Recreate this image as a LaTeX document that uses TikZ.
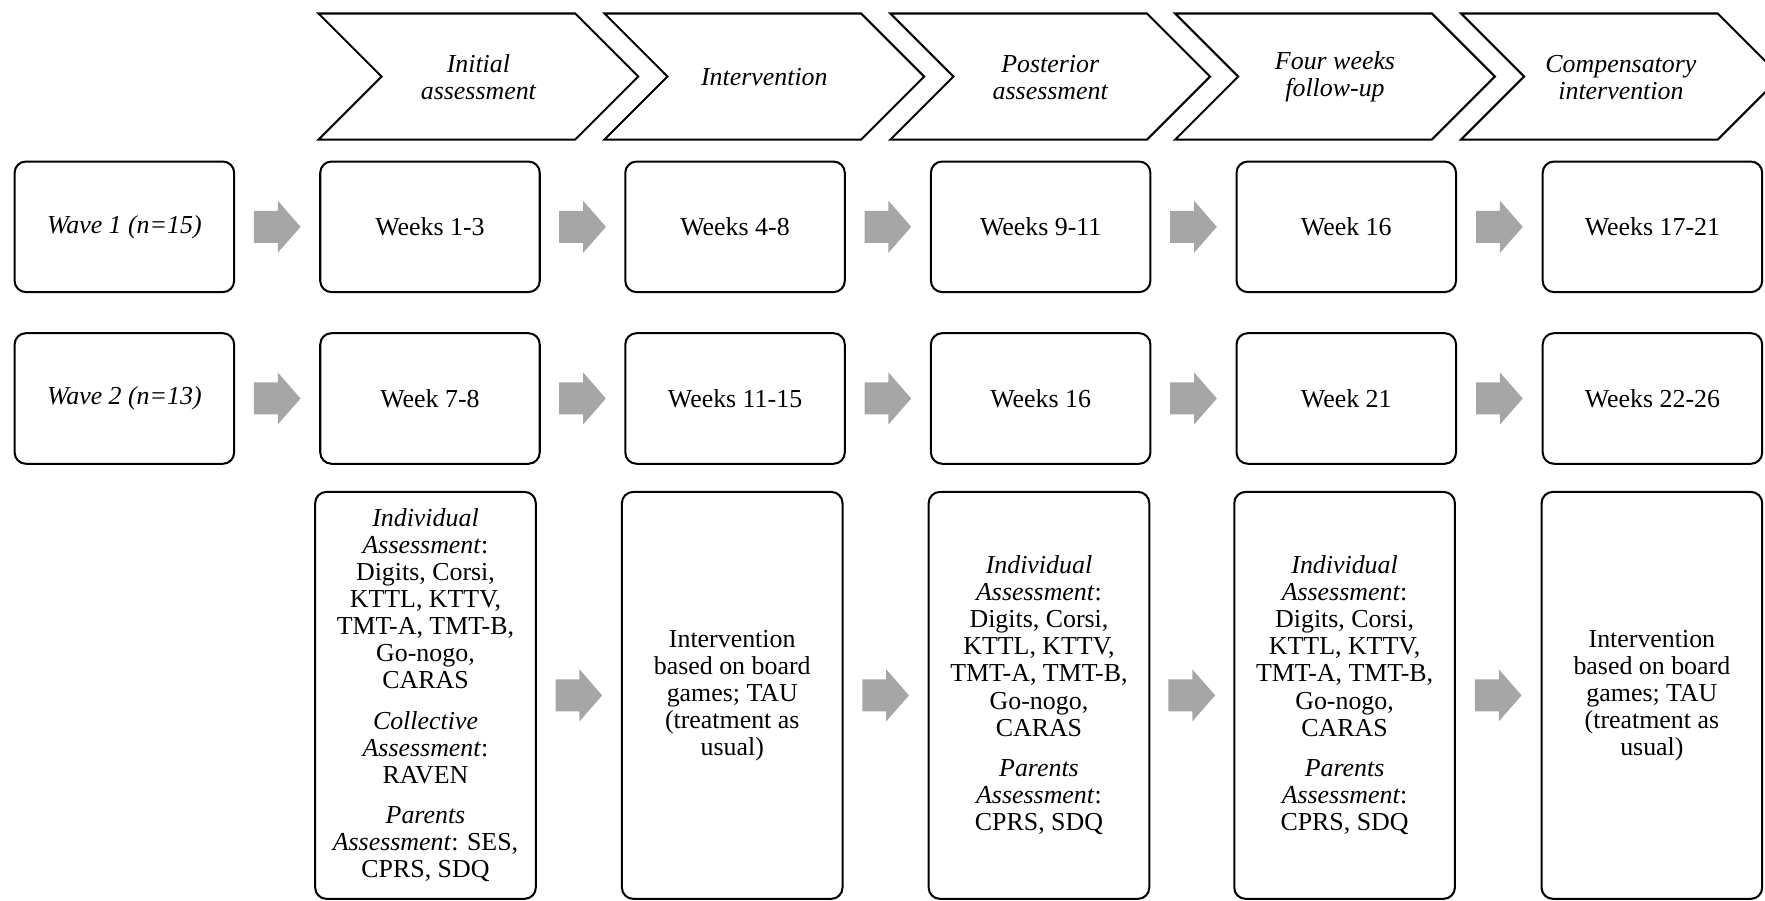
\documentclass[tikz,border=0pt]{standalone}
\usepackage{fontspec}
\setmainfont{Liberation Serif}
\usetikzlibrary{calc}
\definecolor{arrowgray}{RGB}{166,166,166}
\newcommand\diagfont{\fontsize{23}{24}\selectfont}
\begin{document}
\begin{tikzpicture}[x=1pt,y=-1pt,
  box/.style={draw, line width=1.8pt, rounded corners=10pt, align=center, inner sep=0pt, font=\diagfont},
  rowbox/.style={box, minimum width=195pt, minimum height=116pt},
  tallbox/.style={box, minimum width=196pt, minimum height=361.5pt},
  chevron/.style={draw, line width=1.8pt, line join=miter},
  chevtext/.style={align=center, inner sep=0pt, font=\diagfont\itshape},
  blockarrow/.pic={\fill[arrowgray] (-20.75,-14.2) -- (0.55,-14.2) -- (0.55,-23.1) -- (20.75,0) -- (0.55,23.1) -- (0.55,14.2) -- (-20.75,14.2) -- cycle;}
]
\useasboundingbox (0,0) rectangle (1568,800);

% chevrons
\foreach \L/\nm/\txt in {283/h1/{Initial\\assessment}, 537/h2/{Intervention}, 791/h3/{Posterior\\assessment}, 1044/h4/{Four weeks\\follow-up}, 1298/h5/{Compensatory\\intervention}}{
  \draw[chevron] (\L,12) -- ++(228,0) -- ++(56,56) -- ++(-56,56) -- ++(-228,0) -- ++(56,-56) -- cycle;
  \node[chevtext] (\nm) at (\L+142,68.5) {\txt};
}

% row 1
\node[rowbox] (w1) at (110.5,201.5) {\textit{Wave 1 (n=15)}};
\node[rowbox] (a1) at (382,201.5) {Weeks 1-3};
\node[rowbox] (a2) at (653,201.5) {Weeks 4-8};
\node[rowbox] (a3) at (924.5,201.5) {Weeks 9-11};
\node[rowbox] (a4) at (1196,201.5) {Week 16};
\node[rowbox] (a5) at (1468,201.5) {Weeks 17-21};

% row 2
\node[rowbox] (w2) at (110.5,354) {\textit{Wave 2 (n=13)}};
\node[rowbox] (b1) at (382,354) {Week 7-8};
\node[rowbox] (b2) at (653,354) {Weeks 11-15};
\node[rowbox] (b3) at (924.5,354) {Weeks 16};
\node[rowbox] (b4) at (1196,354) {Week 21};
\node[rowbox] (b5) at (1468,354) {Weeks 22-26};

% row 3
\node[tallbox] (c1) at (378,617.75) {\textit{Individual}\\\textit{Assessment}:\\Digits, Corsi,\\KTTL, KTTV,\\TMT-A, TMT-B,\\Go-nogo,\\CARAS\\[12pt]\textit{Collective}\\\textit{Assessment}:\\RAVEN\\[12pt]\textit{Parents}\\\textit{Assessment}: SES,\\CPRS, SDQ};
\node[tallbox] (c2) at (650.5,617.75) {Intervention\\based on board\\games; TAU\\(treatment as\\usual)};
\node[tallbox] (c3) at (923,617.75) {\textit{Individual}\\\textit{Assessment}:\\Digits, Corsi,\\KTTL, KTTV,\\TMT-A, TMT-B,\\Go-nogo,\\CARAS\\[12pt]\textit{Parents}\\\textit{Assessment}:\\CPRS, SDQ};
\node[tallbox] (c4) at (1194.5,617.75) {\textit{Individual}\\\textit{Assessment}:\\Digits, Corsi,\\KTTL, KTTV,\\TMT-A, TMT-B,\\Go-nogo,\\CARAS\\[12pt]\textit{Parents}\\\textit{Assessment}:\\CPRS, SDQ};
\node[tallbox] (c5) at (1467.5,617.75) {Intervention\\based on board\\games; TAU\\(treatment as\\usual)};

% block arrows between boxes
\foreach \p/\q in {w1/a1, a1/a2, a2/a3, a3/a4, a4/a5, w2/b1, b1/b2, b2/b3, b3/b4, b4/b5, c1/c2, c2/c3, c3/c4, c4/c5}{
  \path ($(\p.east)!0.5!(\q.west)$) pic {blockarrow};
}
\end{tikzpicture}
\end{document}
